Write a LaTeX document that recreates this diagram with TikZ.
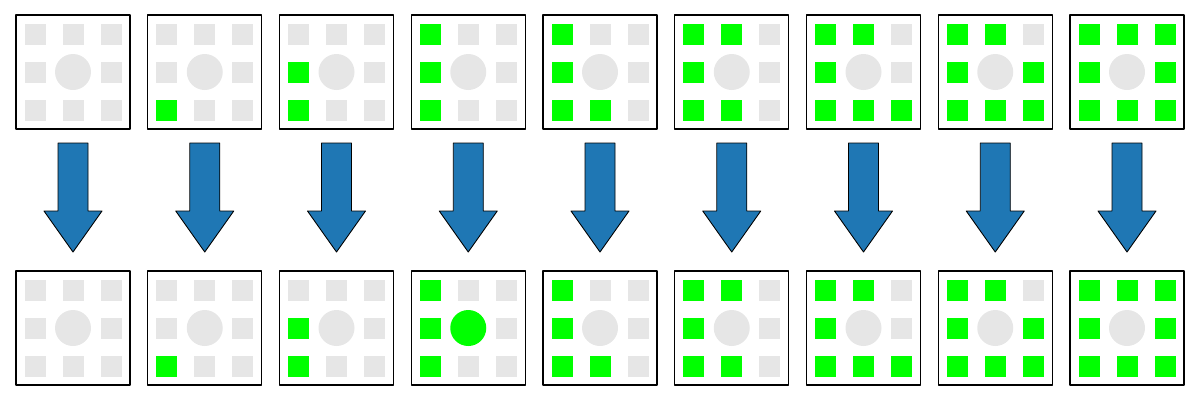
\documentclass[tikz,border=0pt]{standalone}
\definecolor{cellgrey}{HTML}{E6E6E6}
\definecolor{cellgreen}{HTML}{00FF00}
\definecolor{arrowblue}{HTML}{1F77B4}
\begin{document}
\begin{tikzpicture}[x=0.02cm,y=-0.02cm,line join=round]
		%==Phần thông số
		\def\d{131.75}% khoảng cách giữa các cột
		\def\s{21}% cạnh ô vuông
		\def\r{18}% bán kính hình tròn
		%==============
		\useasboundingbox (0,0) rectangle (1200,400);
		\foreach \i in {0,...,8}{
		\path
		(73+\i*\d,72)coordinate(T\i)
		(73+\i*\d,328)coordinate(B\i)
		(73+\i*\d,143)coordinate(A\i)
		(73+\i*\d,252)coordinate(P\i);
		% hai khung
		\draw[line width=0.6pt] (T\i)++(-57,-57) rectangle ++(114,114);
		\draw[line width=0.6pt] (B\i)++(-57,-57) rectangle ++(114,114);
		% các ô vuông
		\foreach \dx/\dy [count=\k] in {-38/38,-38/0,-38/-38,0/38,0/-38,38/38,38/0,38/-38}{
			\ifnum\k>\i \def\c{cellgrey}\else\def\c{cellgreen}\fi
			\fill[\c,shift={(T\i)}] (\dx-\s/2,\dy-\s/2) rectangle ++(\s,\s);
			\fill[\c,shift={(B\i)}] (\dx-\s/2,\dy-\s/2) rectangle ++(\s,\s);
		}
		% hình tròn
		\fill[cellgrey] (T\i) circle[radius=\r];
		\ifnum\i=3 \def\cc{cellgreen}\else\def\cc{cellgrey}\fi
		\fill[\cc] (B\i) circle[radius=\r];
		% mũi tên
		\filldraw[fill=arrowblue,draw=black,line width=0.5pt]
		(A\i)++(-15,0)--++(30,0)--++(0,68)--++(14,0)--(P\i)--++(-29,-41)--++(14,0)--cycle;
		}
		\end{tikzpicture}
\end{document}
